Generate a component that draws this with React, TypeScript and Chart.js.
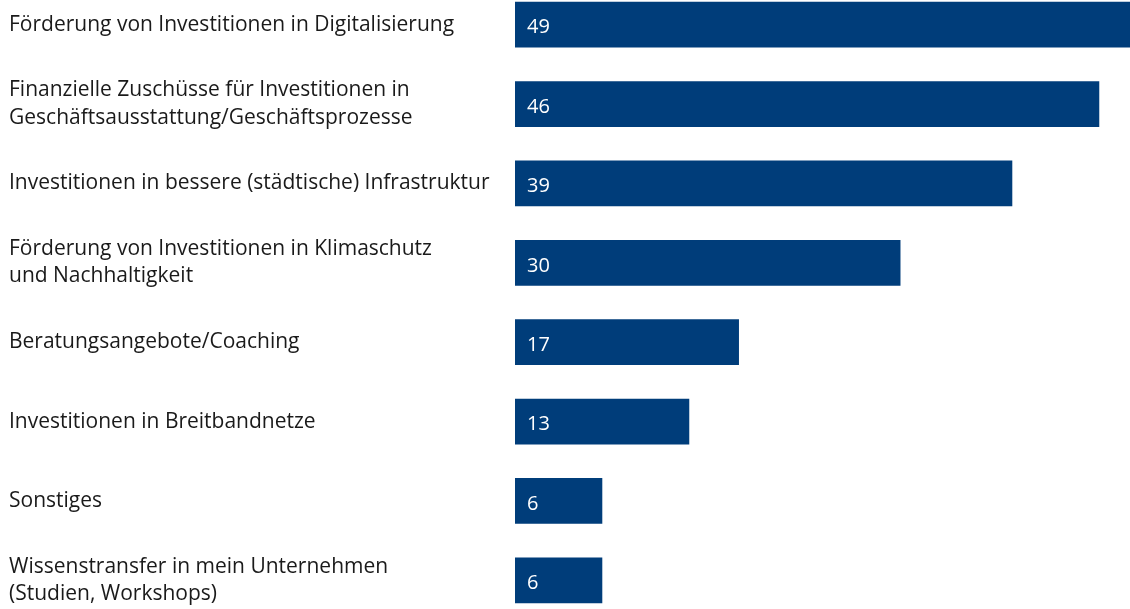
import React, { useEffect, useRef } from "react";
import { Chart, registerables } from "chart.js";

Chart.register(...registerables);

const categories: (string | string[])[] = [
  "Förderung von Investitionen in Digitalisierung",
  ["Finanzielle Zuschüsse für Investitionen in", "Geschäftsausstattung/Geschäftsprozesse"],
  "Investitionen in bessere (städtische) Infrastruktur",
  ["Förderung von Investitionen in Klimaschutz", "und Nachhaltigkeit"],
  "Beratungsangebote/Coaching",
  "Investitionen in Breitbandnetze",
  "Sonstiges",
  ["Wissenstransfer in mein Unternehmen", "(Studien, Workshops)"],
];

const values: number[] = [49, 46, 39, 30, 17, 13, 6, 6];

const BAR_COLOR = "#003d7a";
const FONT = "'Open Sans', 'Noto Sans', sans-serif";

const valueLabelPlugin = {
  id: "valueLabels",
  afterDatasetsDraw(chart: any) {
    const ctx = chart.ctx;
    const meta = chart.getDatasetMeta(0);
    ctx.save();
    ctx.fillStyle = "#ffffff";
    ctx.font = `20px ${FONT}`;
    ctx.textAlign = "left";
    ctx.textBaseline = "middle";
    meta.data.forEach((bar: any, i: number) => {
      ctx.fillText(String(values[i]), bar.base + 12, bar.y + 3);
    });
    ctx.restore();
  },
};

export default function App() {
  const ref = useRef<HTMLCanvasElement | null>(null);

  useEffect(() => {
    if (!ref.current) return;
    const chart = new Chart(ref.current, {
      type: "bar",
      data: {
        labels: categories,
        datasets: [
          {
            data: values,
            backgroundColor: BAR_COLOR,
            borderWidth: 0,
            barThickness: 45,
            base: -1,
          } as any,
        ],
      },
      options: {
        indexAxis: "y",
        animation: false,
        responsive: false,
        layout: { padding: { left: 9, right: 0, top: 0, bottom: 0 } },
        plugins: {
          legend: { display: false },
          tooltip: { enabled: false },
        },
        scales: {
          x: {
            display: false,
            min: -1,
            max: 48.5,
          },
          y: {
            grid: { display: false },
            border: { display: false },
            ticks: {
              crossAlign: "far",
              color: "#1a1a1a",
              padding: 0,
              font: { family: FONT, size: 21, lineHeight: 1.3 },
            },
            afterFit(scale: any) {
              scale.width = 506;
              scale.paddingTop = 0;
              scale.paddingBottom = 0;
            },
          },
        },
      },
      plugins: [valueLabelPlugin],
    });
    return () => chart.destroy();
  }, []);

  return (
    <div
      style={{
        position: "fixed",
        left: 0,
        top: 0,
        width: 1130,
        height: 609,
        overflow: "hidden",
        background: "#ffffff",
      }}
    >
      <div style={{ position: "absolute", left: 0, top: -15, width: 1130, height: 635 }}>
        <canvas ref={ref} width={1130} height={635} style={{ display: "block" }} />
      </div>
    </div>
  );
}
